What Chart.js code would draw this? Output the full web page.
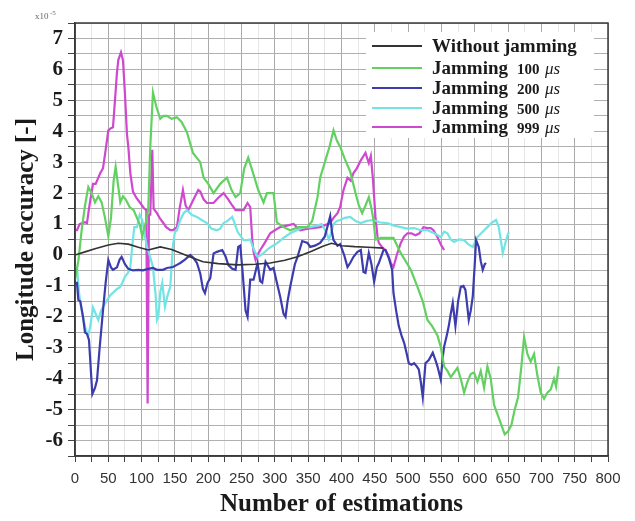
<!DOCTYPE html>
<html>
<head>
<meta charset="utf-8">
<script src="https://cdn.jsdelivr.net/npm/chart.js@4.4.1/dist/chart.umd.min.js"></script>
<style>
  html, body { margin: 0; padding: 0; background: #fff; }
</style>
</head>
<body>
<canvas id="chart" width="635" height="521"></canvas>
<script>
// longitude error (x1e-5) against estimation index, one pair of arrays per run
const noJamX = [0, 15, 30, 50, 65, 80, 95, 110, 128, 145, 160, 175, 192, 215, 244, 270, 293, 315, 334, 355, 372, 385, 400, 420, 440, 463];
const noJamY = [0, 0.1, 0.2, 0.32, 0.38, 0.35, 0.25, 0.16, 0.26, 0.18, 0.05, -0.08, -0.22, -0.28, -0.32, -0.3, -0.26, -0.17, -0.06, 0.12, 0.28, 0.38, 0.3, 0.27, 0.25, 0.22];

const jam100X = [0, 5, 10, 15, 20, 25, 30, 35, 40, 45, 50, 54, 58, 61, 65, 68, 72, 76, 82, 88, 93, 97, 101, 104, 107, 110, 113, 117, 122, 128, 133, 138, 145, 153, 160, 168, 177, 188, 193, 200, 208, 218, 228, 235, 241, 248, 254, 260, 268, 275, 283, 288, 298, 303, 313, 323, 335, 349, 356, 364, 368, 375, 382, 388, 393, 398, 405, 413, 421, 426, 431, 436, 441, 445, 448, 451, 459, 470, 478, 489, 504, 514, 522, 529, 536, 544, 549, 554, 559, 564, 569, 574, 579, 584, 589, 594, 599, 604, 609, 614, 619, 624, 629, 635, 640, 645, 650, 655, 660, 665, 670, 674, 679, 684, 689, 694, 699, 704, 709, 714, 719, 722, 726];
const jam100Y = [-0.8, -0.2, 0.8, 1.6, 2.2, 2.0, 1.7, 1.9, 1.7, 1.2, 0.6, 1.2, 2.4, 2.85, 2.2, 1.7, 1.9, 1.8, 1.55, 1.45, 1.2, 1.0, 0.6, 0.9, 1.1, 1.5, 3.5, 5.25, 4.8, 4.4, 4.5, 4.5, 4.4, 4.45, 4.3, 3.97, 3.3, 3.0, 2.5, 2.3, 2.0, 2.3, 2.5, 2.1, 1.87, 2.0, 2.8, 3.15, 2.6, 2.1, 1.7, 2.0, 2.0, 1.05, 0.9, 0.8, 0.9, 0.9, 1.1, 1.87, 2.5, 3.0, 3.5, 4.03, 3.7, 3.5, 3.1, 2.7, 2.0, 1.6, 1.35, 1.6, 1.87, 1.5, 1.13, 0.5, 0.55, 0.55, 0.55, 0.06, -0.48, -1.03, -1.5, -2.1, -2.3, -2.6, -2.97, -3.6, -3.75, -3.95, -3.8, -3.65, -4.0, -4.45, -4.1, -3.85, -3.8, -4.1, -3.75, -4.3, -3.6, -4.0, -4.85, -5.2, -5.5, -5.8, -5.7, -5.5, -5.0, -4.6, -3.6, -2.65, -3.2, -3.45, -3.2, -3.9, -4.45, -4.65, -4.45, -4.35, -4.0, -4.25, -3.6];

const jam200X = [0, 3, 5, 8, 12, 15, 18, 21, 24, 26, 30, 33, 37, 42, 46, 50, 54, 57, 63, 67, 70, 75, 80, 87, 95, 102, 110, 117, 123, 132, 138, 147, 153, 158, 165, 173, 178, 183, 188, 192, 195, 199, 203, 208, 213, 221, 226, 230, 236, 241, 245, 248, 251, 256, 259, 263, 268, 274, 278, 281, 286, 293, 298, 303, 308, 313, 316, 319, 323, 330, 334, 341, 349, 353, 360, 368, 375, 380, 383, 386, 388, 394, 398, 404, 409, 413, 418, 424, 429, 433, 436, 441, 445, 449, 453, 456, 463, 466, 471, 476, 478, 482, 486, 490, 494, 498, 501, 505, 509, 513, 516, 519, 522, 526, 531, 537, 541, 544, 549, 552, 554, 558, 561, 564, 567, 571, 575, 579, 583, 586, 589, 591, 594, 597, 600, 602, 606, 609, 612, 615, 617];
const jam200Y = [-0.9, -0.9, -1.45, -1.5, -2.0, -2.5, -2.55, -2.75, -3.8, -4.5, -4.3, -4.05, -3.0, -1.8, -0.9, -0.16, -0.4, -0.48, -0.4, -0.15, -0.06, -0.3, -0.45, -0.5, -0.48, -0.5, -0.45, -0.42, -0.48, -0.48, -0.42, -0.39, -0.32, -0.26, -0.15, 0, -0.1, -0.26, -0.6, -1.1, -1.23, -0.9, -0.75, 0.05, 0.1, 0.16, -0.05, -0.32, -0.45, -0.48, 0.26, 0.3, -0.4, -1.8, -2.0, -0.8, -0.8, -0.26, -0.85, -0.9, -0.22, -0.48, -0.42, -0.9, -1.35, -1.9, -2.0, -1.5, -1.03, -0.3, -0.06, 0.45, 0.39, 0.26, 0.3, 0.39, 0.6, 1.0, 1.25, 0.7, 0.48, 0.3, 0.35, 0.0, -0.39, -0.26, -0.06, 0.1, 0.16, -0.55, -0.58, 0.06, -0.3, -0.87, -0.4, -0.26, 0.16, 0.16, -0.1, -0.48, -1.23, -1.8, -2.3, -2.6, -2.84, -3.2, -3.5, -3.55, -3.5, -3.6, -3.7, -4.1, -4.6, -3.5, -3.4, -3.16, -3.4, -3.6, -4.03, -3.3, -2.97, -2.6, -2.3, -1.9, -1.55, -2.3, -1.5, -1.03, -1.0, -1.13, -1.7, -2.1, -1.8, -1.35, -0.3, 0.48, 0.26, -0.2, -0.48, -0.3, -0.26];

const jam500X = [0, 3, 6, 8, 12, 16, 20, 23, 27, 31, 35, 39, 42, 47, 53, 58, 63, 68, 71, 75, 79, 83, 86, 89, 93, 97, 101, 105, 108, 112, 117, 121, 123, 125, 128, 131, 135, 139, 143, 147, 150, 153, 158, 163, 168, 175, 183, 190, 198, 205, 213, 218, 223, 229, 236, 240, 244, 249, 253, 258, 263, 268, 274, 279, 283, 290, 297, 304, 313, 323, 333, 343, 353, 363, 370, 378, 381, 383, 388, 393, 398, 405, 413, 421, 429, 438, 448, 458, 469, 479, 489, 499, 509, 519, 529, 539, 549, 554, 559, 564, 569, 576, 584, 590, 597, 604, 612, 619, 626, 632, 636, 639, 642, 645, 647, 651];
const jam500Y = [-0.4, -0.4, -1.2, -1.55, -2.0, -2.4, -2.6, -2.3, -1.7, -1.9, -2.1, -1.8, -1.68, -1.5, -1.3, -1.2, -1.1, -1.03, -0.9, -0.7, -0.6, -0.4, 0.3, 0.9, 0.9, 1.3, 1.13, 0.6, 0.26, 0.0, -0.39, -1.3, -2.1, -2.0, -1.2, -0.9, -1.68, -1.3, -1.03, 0.3, 0.75, 0.8, 1.13, 1.35, 1.45, 1.3, 1.23, 1.13, 1.03, 0.85, 0.8, 0.85, 1.03, 1.1, 1.23, 1.0, 0.75, 0.6, 0.48, 0.48, 0.5, 0.2, -0.06, 0.0, 0.06, 0.2, 0.3, 0.39, 0.55, 0.7, 0.8, 0.9, 0.9, 0.95, 1.0, 0.7, 0.5, 0.6, 1.0, 1.1, 1.13, 1.2, 1.23, 1.1, 1.03, 1.1, 1.13, 1.05, 1.03, 0.95, 0.9, 0.85, 0.87, 0.8, 0.8, 0.7, 0.58, 0.75, 0.7, 0.5, 0.42, 0.5, 0.48, 0.35, 0.26, 0.58, 0.75, 0.9, 1.05, 1.13, 0.9, 0.5, 0.06, 0.3, 0.48, 0.74];

const jam999X = [0, 3, 7, 11, 15, 18, 21, 23, 27, 31, 35, 38, 42, 46, 50, 54, 57, 60, 63, 65, 69, 72, 75, 78, 80, 83, 87, 92, 98, 104, 107, 109, 111, 113, 116, 118, 123, 127, 132, 137, 143, 147, 153, 157, 162, 166, 170, 178, 185, 188, 193, 198, 208, 215, 223, 230, 236, 241, 247, 253, 259, 263, 266, 268, 271, 274, 278, 285, 293, 300, 308, 318, 328, 338, 350, 368, 383, 388, 394, 398, 403, 409, 414, 418, 423, 429, 433, 436, 439, 441, 444, 447, 451, 454, 456, 461, 466, 470, 474, 478, 483, 489, 494, 499, 505, 511, 517, 523, 529, 534, 538, 544, 546, 550, 554];
const jam999Y = [0.8, 0.8, 1.0, 1.03, 1.06, 1.03, 1.5, 1.77, 2.3, 2.3, 2.5, 2.65, 2.8, 3.4, 4.03, 4.1, 4.13, 5.0, 5.9, 6.3, 6.55, 6.3, 5.2, 3.9, 3.5, 2.65, 2.05, 1.85, 1.68, 1.5, 1.45, -4.8, 1.3, 1.3, 3.4, 1.5, 1.35, 1.2, 1.05, 0.9, 0.8, 0.8, 0.9, 1.5, 2.1, 1.6, 1.45, 1.8, 2.1, 2.05, 1.8, 1.68, 1.68, 1.85, 2.0, 1.8, 1.6, 1.45, 1.45, 1.45, 1.68, 1.55, 0.5, 0.1, -0.16, 0.0, 0.16, 0.4, 0.7, 0.8, 0.9, 0.95, 1.0, 0.8, 0.85, 0.9, 1.03, 1.2, 1.35, 1.55, 2.1, 2.5, 2.4, 2.65, 2.8, 3.06, 3.2, 3.3, 3.1, 2.97, 3.2, 2.5, 1.23, 0.6, 0.39, 0.25, 0.16, 0.0, -0.26, -0.39, 0.0, 0.39, 0.6, 0.7, 0.7, 0.64, 0.7, 0.9, 0.87, 0.87, 0.8, 0.58, 0.48, 0.3, 0.16];

const seriesNames = ['Without jamming', 'Jamming', 'Jamming', 'Jamming', 'Jamming'];
const seriesPeriods = ['', '100', '200', '500', '999'];
const seriesColors = ['#333333', '#62d162', '#3c3cae', '#72e4e4', '#cf48cf'];

const xMin = 0, xMax = 800;
const yMin = -6.5, yMax = 7.5;

function toPoints(xs, ys) {
  return xs.map((x, i) => ({ x: x, y: ys[i] }));
}

const runs = [
  toPoints(noJamX, noJamY),
  toPoints(jam100X, jam100Y),
  toPoints(jam200X, jam200Y),
  toPoints(jam500X, jam500Y),
  toPoints(jam999X, jam999Y)
];

// frame, exponent note and the legend box in the upper right
const decor = {
  id: 'decor',
  afterDraw(chart) {
    const ctx = chart.ctx;
    const a = chart.chartArea;
    ctx.save();
    ctx.strokeStyle = '#3a3a3a';
    ctx.lineWidth = 1.5;
    ctx.strokeRect(a.left, a.top, a.right - a.left, a.bottom - a.top);

    ctx.fillStyle = '#666';
    ctx.textBaseline = 'alphabetic';
    ctx.textAlign = 'left';
    ctx.font = '9px "Liberation Serif"';
    ctx.fillText('x10', 35, 19);
    ctx.font = '7px "Liberation Serif"';
    ctx.fillText('-5', 50, 15);

    ctx.fillStyle = '#fff';
    ctx.fillRect(366, 32, 228, 106);

    const rowY = [46, 68, 88, 108, 127];
    seriesNames.forEach((name, i) => {
      const y = rowY[i];
      ctx.strokeStyle = seriesColors[i];
      ctx.lineWidth = 2;
      ctx.beginPath();
      ctx.moveTo(372, y);
      ctx.lineTo(422, y);
      ctx.stroke();

      ctx.fillStyle = '#1a1a1a';
      ctx.textBaseline = 'middle';
      ctx.font = 'bold 19px "Liberation Serif"';
      ctx.fillText(name, 432, y + 1);
      if (seriesPeriods[i]) {
        ctx.font = 'bold 15px "Liberation Serif"';
        ctx.fillText(seriesPeriods[i], 517, y + 2);
        ctx.font = 'italic 17px "Liberation Serif"';
        ctx.fillText('\u03bcs', 545, y + 2);
      }
    });
    ctx.restore();
  }
};

new Chart(document.getElementById('chart'), {
  type: 'line',
  data: {
    datasets: runs.map((pts, i) => ({
      label: seriesNames[i] + ' ' + seriesPeriods[i],
      data: pts,
      borderColor: seriesColors[i],
      borderWidth: i === 0 ? 1.6 : 2.2,
      pointRadius: 0,
      tension: 0,
      fill: false
    }))
  },
  options: {
    responsive: false,
    animation: false,
    layout: { padding: { left: 12, right: 27, top: 23, bottom: 0 } },
    plugins: {
      legend: { display: false },
      tooltip: { enabled: false }
    },
    scales: {
      x: {
        type: 'linear',
        min: xMin,
        max: xMax,
        afterFit: (scale) => { scale.height = 65; },
        ticks: {
          stepSize: 25,
          autoSkip: false,
          maxRotation: 0,
          padding: 8,
          color: '#333',
          font: { family: '"Liberation Sans"', size: 15 },
          callback: (v) => (v % 50 === 0 ? String(v) : '')
        },
        grid: {
          color: (c) => (c.tick && c.tick.value % 50 === 0 ? '#aaaaaa' : '#e6e6e6'),
          tickColor: '#444',
          tickLength: 6
        },
        border: { color: '#3a3a3a', width: 1.5 },
        title: {
          display: true,
          text: 'Number of estimations',
          color: '#1a1a1a',
          font: { family: '"Liberation Serif"', size: 25, weight: 'bold' },
          padding: { top: 0, bottom: 1 }
        }
      },
      y: {
        type: 'linear',
        min: yMin,
        max: yMax,
        afterFit: (scale) => { scale.width = 63; },
        ticks: {
          stepSize: 0.5,
          autoSkip: false,
          padding: 5,
          color: '#1a1a1a',
          font: { family: '"Liberation Serif"', size: 21, weight: 'bold' },
          callback: (v) => (Number.isInteger(v) ? String(v) : '')
        },
        grid: {
          color: '#b0b0b0',
          tickColor: '#444',
          tickLength: 7
        },
        border: { color: '#3a3a3a', width: 1.5 },
        title: {
          display: true,
          text: 'Longitude accuracy [-]',
          color: '#1a1a1a',
          font: { family: '"Liberation Serif"', size: 25, weight: 'bold' },
          padding: { top: 0, bottom: 0 }
        }
      }
    }
  },
  plugins: [decor]
});
</script>
</body>
</html>
